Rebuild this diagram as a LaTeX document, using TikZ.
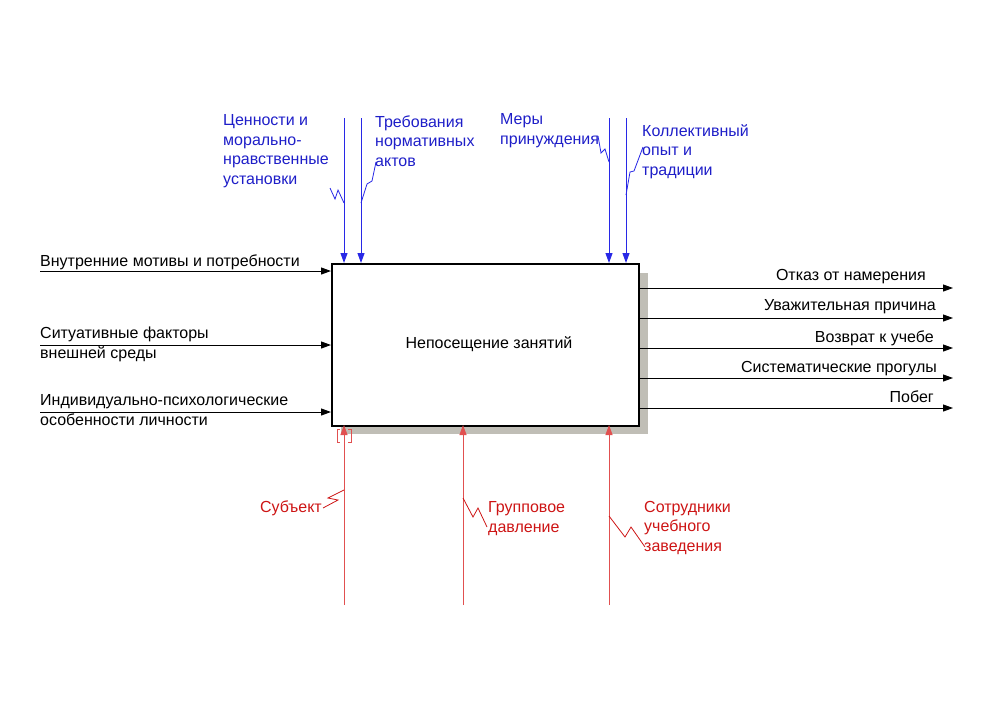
\documentclass[tikz,border=0pt]{standalone}
\usepackage{fontspec}
\setmainfont{Liberation Sans}
\usetikzlibrary{arrows.meta}
\definecolor{ctlblue}{RGB}{30,30,200}
\definecolor{ctlline}{RGB}{40,40,230}
\definecolor{mechred}{RGB}{205,20,20}
\definecolor{mechline}{RGB}{225,80,80}
\definecolor{shadowgray}{RGB}{192,190,182}
\begin{document}
\begin{tikzpicture}[x=1pt,y=-1pt,
  lbl/.style={font=\fontsize{16}{19.5}\selectfont, inner sep=0pt, align=left, anchor=base west},
  lblr/.style={font=\fontsize{16}{19.5}\selectfont, inner sep=0pt, align=right, anchor=base east},
  tip/.style={-{Triangle[length=10pt,width=7pt]}},
  blk/.style={tip, line width=1pt, black},
  ctl/.style={tip, line width=1pt, ctlline},
  mech/.style={tip, line width=1pt, mechline},
  sq/.style={line width=0.8pt}]
\useasboundingbox (0,0) rectangle (1000,707);
% shadow and box
\fill[shadowgray] (341,273) rectangle (648,434);
\node[draw, line width=1.6pt, fill=white, anchor=north west, minimum width=307pt, minimum height=162pt, inner sep=0pt] (box) at (331,263) {};
\node[font=\fontsize{16}{19.5}\selectfont, inner sep=0pt] (title) at (489,344) {Непосещение занятий};

% coordinates
\coordinate (i1) at (40,271);  \coordinate (i1e) at (331,271);
\coordinate (i2) at (40,345);  \coordinate (i2e) at (331,345);
\coordinate (i3) at (40,412);  \coordinate (i3e) at (331,412);
\foreach \n/\y in {1/288,2/318,3/348,4/378,5/408}{
  \coordinate (o\n) at (638,\y); \coordinate (o\n e) at (953,\y);
}
\coordinate (c1) at (344,118); \coordinate (c1e) at (344,263);
\coordinate (c2) at (361,118); \coordinate (c2e) at (361,263);
\coordinate (c3) at (609,118); \coordinate (c3e) at (609,263);
\coordinate (c4) at (626,118); \coordinate (c4e) at (626,263);
\coordinate (m1) at (344,605); \coordinate (m1e) at (344,425);
\coordinate (m2) at (463,605); \coordinate (m2e) at (463,425);
\coordinate (m3) at (609,605); \coordinate (m3e) at (609,425);

% inputs
\draw[blk] (i1) -- (i1e);
\draw[blk] (i2) -- (i2e);
\draw[blk] (i3) -- (i3e);
\node[lbl] (t1) at (40,266) {Внутренние мотивы и потребности};
\node[lbl] (t2) at (40,358) {Ситуативные факторы\\внешней среды};
\node[lbl] (t3) at (40,425) {Индивидуально-психологические\\особенности личности};

% outputs
\foreach \n in {1,...,5}{ \draw[blk] (o\n) -- (o\n e); }
\node[lblr] (r1) at (926,280) {Отказ от намерения};
\node[lblr] (r2) at (936,310) {Уважительная причина};
\node[lblr] (r3) at (934,342) {Возврат к учебе};
\node[lblr] (r4) at (937,372) {Систематические прогулы};
\node[lblr] (r5) at (934,402) {Побег};

% controls
\draw[ctl] (c1) -- (c1e);
\draw[ctl] (c2) -- (c2e);
\draw[ctl] (c3) -- (c3e);
\draw[ctl] (c4) -- (c4e);
\draw[sq, ctlline] (344,203) -- (338,190) -- (335,199) -- (330,188);
\draw[sq, ctlline] (361,203) -- (367,184) -- (372,181) -- (376,162);
\draw[sq, ctlline] (609,162) -- (605,149) -- (601,153) -- (598,136);
\draw[sq, ctlline] (626,195) -- (630,172) -- (634,171) -- (643,147);
\node[lbl, ctlblue] (u1) at (223,184) {Ценности и\\морально-\\нравственные\\установки};
\node[lbl, ctlblue] (u2) at (375,166) {Требования\\нормативных\\актов};
\node[lbl, ctlblue] (u3) at (500,144) {Меры\\принуждения};
\node[lbl, ctlblue] (u4) at (642,175) {Коллективный\\опыт и\\традиции};

% mechanisms
\draw[mech] (m1) -- (m1e);
\draw[mech] (m2) -- (m2e);
\draw[mech] (m3) -- (m3e);
\draw[sq, mechred] (344,490) -- (328,498) -- (338,500) -- (323,508);
\draw[sq, mechred] (463,498) -- (473,517) -- (478,508) -- (487,527);
\draw[sq, mechred] (609,516) -- (625,537) -- (631,527) -- (645,547);
% tunnel brackets
\draw[line width=0.7pt, mechline] (340,429) -- (337,429) -- (337,442) -- (340,442);
\draw[line width=0.7pt, mechline] (348,429) -- (351,429) -- (351,442) -- (348,442);
\node[lblr, mechred] (b1) at (322,512) {Субъект};
\node[lbl, mechred] (b2) at (488,532) {Групповое\\давление};
\node[lbl, mechred] (b3) at (644,551) {Сотрудники\\учебного\\заведения};
\end{tikzpicture}
\end{document}
